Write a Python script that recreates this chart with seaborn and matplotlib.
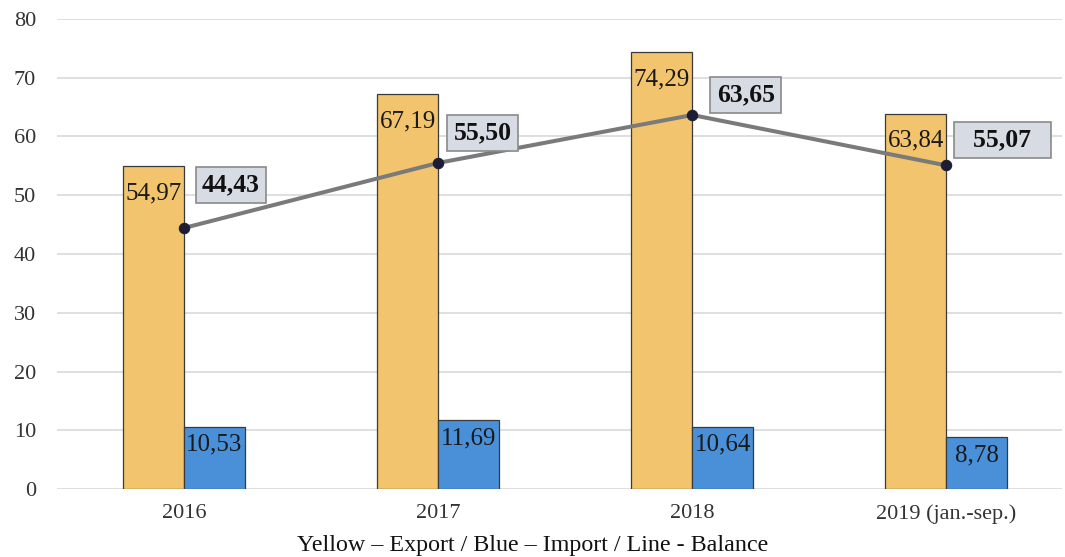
import matplotlib
matplotlib.use("Agg")
import matplotlib.pyplot as plt
import seaborn as sns
import pandas as pd

# Trade figures per period
periods = ["2016", "2017", "2018", "2019 (jan.-sep.)"]
export_vals = [54.97, 67.19, 74.29, 63.84]
import_vals = [10.53, 11.69, 10.64, 8.78]
balance_vals = [44.43, 55.50, 63.65, 55.07]

def fmt(v):
    return f"{v:.2f}".replace(".", ",")

sns.set_theme(style="whitegrid")
plt.rcParams["font.family"] = ["Liberation Serif", "DejaVu Serif"]

df = pd.DataFrame({
    "period": periods * 2,
    "value": export_vals + import_vals,
    "flow": ["Export"] * len(periods) + ["Import"] * len(periods),
})

fig = plt.figure(figsize=(10.65, 5.57), dpi=100)
ax = fig.add_axes([0.0535, 0.122, 0.944, 0.844])

sns.barplot(data=df, x="period", y="value", hue="flow",
            palette={"Export": "#F2C46D", "Import": "#4A90D9"},
            saturation=1, width=0.48, gap=0,
            edgecolor="#3a3a3a", linewidth=0.9,
            legend=False, ax=ax, zorder=3)

# Balance line through the category centres
sns.lineplot(x=list(range(len(periods))), y=balance_vals, ax=ax,
             color="#7a7a7a", linewidth=2.9, zorder=4,
             marker="o", markersize=7.5, markerfacecolor="#1c1c34",
             markeredgecolor="#1c1c34")

# Value labels inside the bars
for i, (e, m) in enumerate(zip(export_vals, import_vals)):
    ax.text(i - 0.12, e - 4.6, fmt(e), ha="center", va="center",
            fontsize=18, color="#1a1a1a", zorder=5)
    ax.text(i + 0.12, m - 3.0, fmt(m), ha="center", va="center",
            fontsize=18, color="#1a1a1a", zorder=5)

# Boxed balance labels, placed up and to the right of each point
box_dx = [0.185, 0.175, 0.21, 0.22]
box_dy = [7.3, 5.1, 3.4, 4.3]
for i, b in enumerate(balance_vals):
    txt = fmt(b) if i < len(balance_vals) - 1 else "  " + fmt(b) + "  "
    ax.text(i + box_dx[i], b + box_dy[i], txt, ha="center", va="center",
            fontsize=18.5, fontweight="bold", color="#111111", zorder=6,
            bbox=dict(boxstyle="square,pad=0.25", facecolor="#D7DCE4",
                      edgecolor="#8a8a8a", linewidth=1.2))

ax.set_ylim(0, 80)
ax.set_xlim(-0.5, 3.456)
ax.set_yticks(range(0, 81, 10))
ax.set_xlabel("")
ax.set_ylabel("")
ax.grid(axis="y", color="#dcdcdc", linewidth=1.3)
ax.grid(axis="x", visible=False)
for s in ax.spines.values():
    s.set_visible(False)
ax.tick_params(axis="y", labelsize=16, pad=15, colors="#333333", length=0)
ax.tick_params(axis="x", labelsize=16, pad=11, colors="#333333", length=0)

fig.text(0.5, 0.0215, "Yellow – Export / Blue – Import / Line - Balance",
         ha="center", va="center", fontsize=17.3, color="#111111")

fig.savefig("out.png", dpi=100, facecolor="white")
